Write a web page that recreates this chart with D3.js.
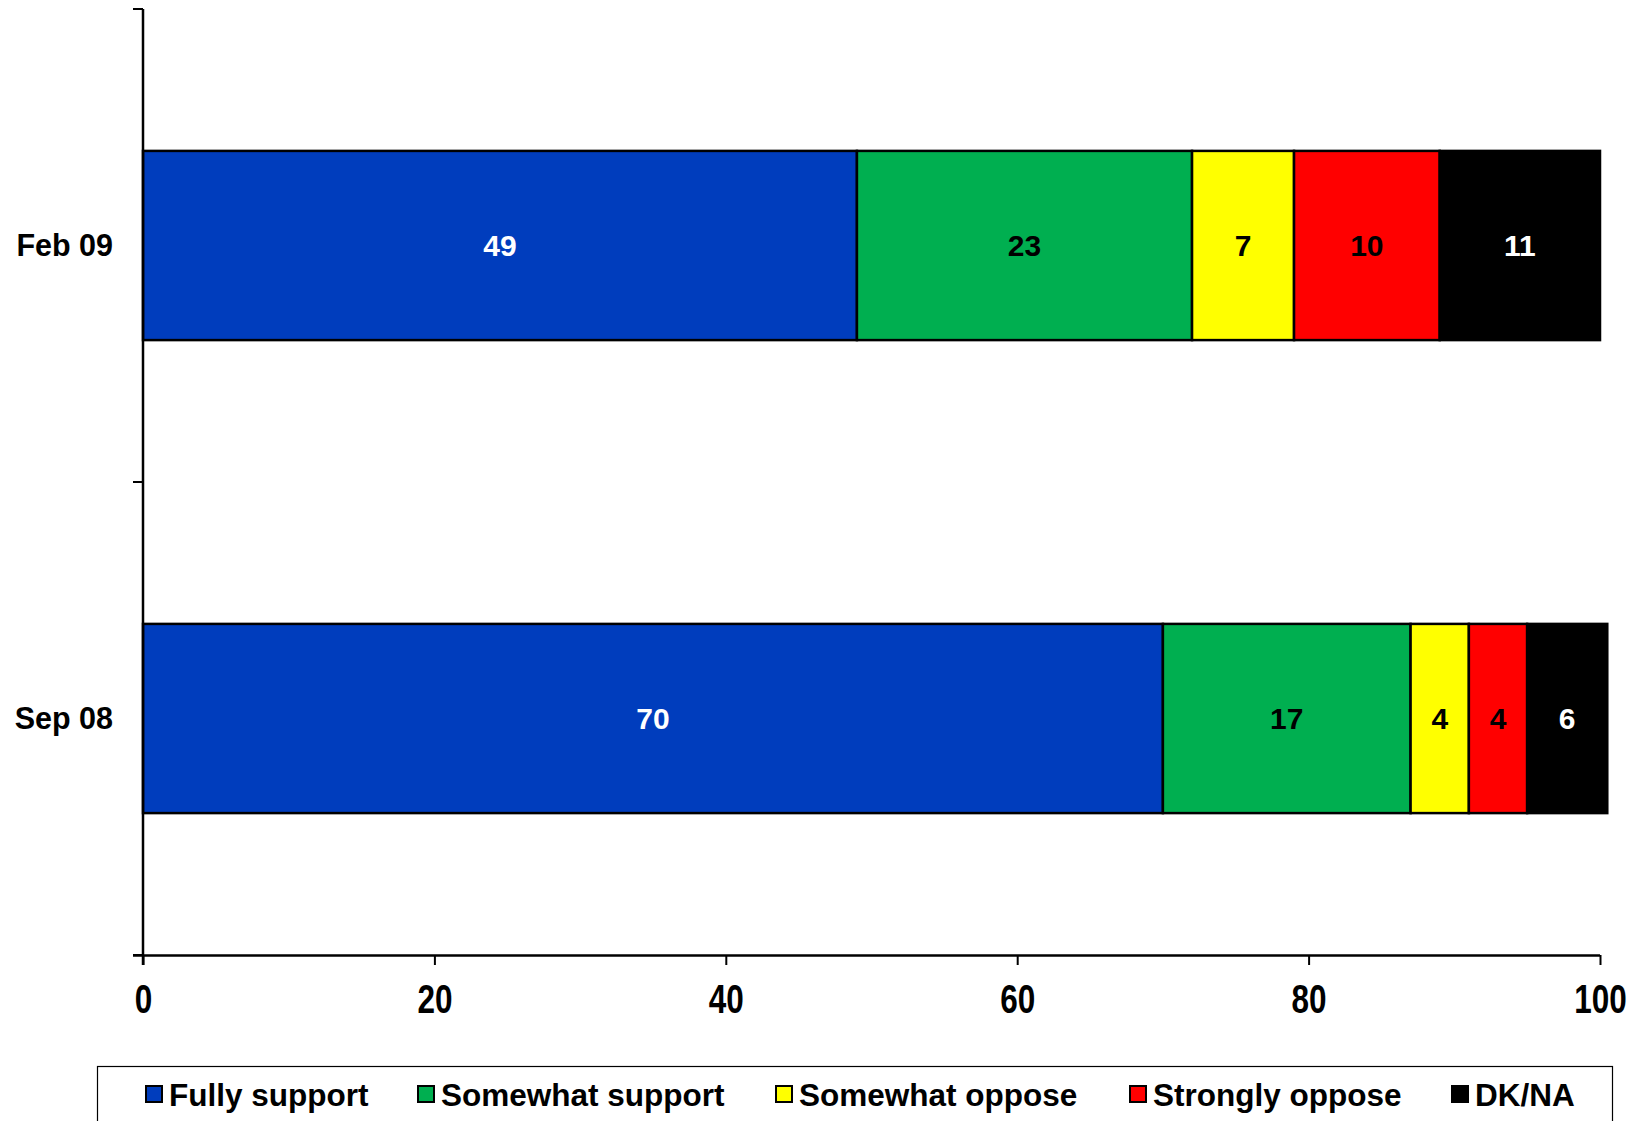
<!DOCTYPE html>
<html>
<head>
<meta charset="utf-8">
<script src="https://cdn.jsdelivr.net/npm/d3@7"></script>
<style>
  html, body { margin: 0; padding: 0; background: #fff; }
  svg { display: block; font-family: Arial, "Liberation Sans", sans-serif; }
</style>
</head>
<body>
<svg id="chart" width="1640" height="1121"></svg>
<script>
// ---- Data (labels are shown rounded) ----
const categories = ["Feb 09", "Sep 08"];
const seriesNames = ["Fully support", "Somewhat support", "Somewhat oppose", "Strongly oppose", "DK/NA"];
const fullySupport    = [49, 70];
const somewhatSupport = [23, 17];
const somewhatOppose  = [7, 4];
const stronglyOppose  = [10, 4];
const dkNa            = [11, 5.5];
const xTicks = [0, 20, 40, 60, 80, 100];

const seriesColors = ["#003DBD", "#00AF50", "#FFFF00", "#FF0000", "#000000"];
const labelColors  = ["#FFFFFF", "#000000", "#000000", "#000000", "#FFFFFF"];

const seriesValues = [fullySupport, somewhatSupport, somewhatOppose, stronglyOppose, dkNa];
const rows = categories.map((c, i) => {
  const r = { category: c };
  seriesNames.forEach((s, j) => r[s] = seriesValues[j][i]);
  return r;
});

// ---- Layout ----
const svg = d3.select("#chart");
const plotLeft = 143, plotRight = 1600, plotTop = 9, plotBottom = 955;

const x = d3.scaleLinear().domain([0, 100]).range([plotLeft, plotRight]);
const y = d3.scaleBand().domain(categories).range([plotTop, plotBottom])
  .paddingInner(0.6).paddingOuter(0.3);

const stacked = d3.stack().keys(seriesNames)(rows);

// Bars
const g = svg.append("g");
stacked.forEach((layer, si) => {
  g.selectAll(null).data(layer).enter().append("rect")
    .attr("x", d => x(d[0]))
    .attr("y", d => y(d.data.category))
    .attr("width", d => x(d[1]) - x(d[0]))
    .attr("height", y.bandwidth())
    .attr("fill", seriesColors[si])
    .attr("stroke", "#000")
    .attr("stroke-width", 2.5);
});

// Value labels
stacked.forEach((layer, si) => {
  g.selectAll(null).data(layer).enter().append("text")
    .attr("x", d => (x(d[0]) + x(d[1])) / 2)
    .attr("y", d => y(d.data.category) + y.bandwidth() / 2)
    .attr("text-anchor", "middle")
    .attr("dy", "0.36em")
    .attr("font-size", 30)
    .attr("font-weight", "bold")
    .attr("fill", labelColors[si])
    .text(d => Math.round(d[1] - d[0]));
});

// Y axis line + ticks at category boundaries
svg.append("line")
  .attr("x1", plotLeft).attr("x2", plotLeft)
  .attr("y1", plotTop).attr("y2", plotBottom + 10)
  .attr("stroke", "#000").attr("stroke-width", 2.5);
d3.range(categories.length + 1).forEach(i => {
  const yy = plotTop + i * y.step();
  svg.append("line")
    .attr("x1", plotLeft - 10).attr("x2", plotLeft)
    .attr("y1", yy).attr("y2", yy)
    .attr("stroke", "#000").attr("stroke-width", 2);
});

// Category labels
svg.selectAll(".cat").data(categories).enter().append("text")
  .attr("class", "cat")
  .attr("x", 113)
  .attr("y", d => y(d) + y.bandwidth() / 2)
  .attr("dy", "0.36em")
  .attr("text-anchor", "end")
  .attr("font-size", 30.5)
  .attr("font-weight", "bold")
  .attr("fill", "#000")
  .text(d => d);

// X axis
const xAxis = d3.axisBottom(x).tickValues(xTicks).tickSize(10).tickFormat(d3.format("d"));
const xg = svg.append("g").attr("transform", `translate(0,${plotBottom})`).call(xAxis);
xg.select(".domain").attr("stroke", "#000").attr("stroke-width", 2.5)
  .attr("d", `M${plotLeft - 10},0.5H${plotRight}`);
xg.selectAll(".tick line").attr("stroke", "#000").attr("stroke-width", 2);
xg.selectAll(".tick text")
  .attr("font-family", "Arial, 'Liberation Sans', sans-serif")
  .attr("font-size", 31.5)
  .attr("font-weight", "bold")
  .attr("fill", "#000")
  .attr("y", 0)
  .attr("dy", 0)
  .attr("transform", "translate(0,58) scale(1,1.3)");

// Legend
const legend = svg.append("g");
legend.append("rect")
  .attr("x", 97.5).attr("y", 1066.5)
  .attr("width", 1515).attr("height", 80)
  .attr("fill", "#fff").attr("stroke", "#000").attr("stroke-width", 1.2);
const legendSquareX = [146, 418, 776, 1130, 1452];
seriesNames.forEach((s, i) => {
  legend.append("rect")
    .attr("x", legendSquareX[i]).attr("y", 1086)
    .attr("width", 16).attr("height", 16)
    .attr("fill", seriesColors[i])
    .attr("stroke", "#000").attr("stroke-width", 2);
  legend.append("text")
    .attr("x", legendSquareX[i] + 23)
    .attr("y", 1106)
    .attr("font-size", 31.5)
    .attr("font-weight", "bold")
    .attr("fill", "#000")
    .text(s);
});
</script>
</body>
</html>
